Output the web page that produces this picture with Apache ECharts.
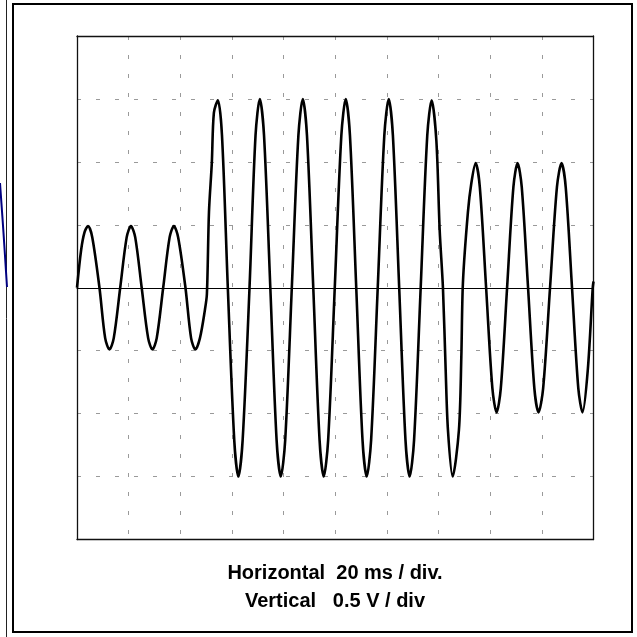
<!DOCTYPE html>
<html>
<head>
<meta charset="utf-8">
<script src="https://cdn.jsdelivr.net/npm/echarts@6/dist/echarts.min.js"></script>
<style>
html,body{margin:0;padding:0;background:#fff;}
#chart{width:637px;height:637px;}
</style>
</head>
<body>
<div id="chart"></div>
<script>
// Time (ms) and voltage (V)
var timeMs = [
  0, 1.6, 2.9, 4.26,
  5.92, 8.7, 10.91, 12.57,
  14.23, 16.73, 19.23, 20.89,
  22.55, 25.05, 27.55, 29.21,
  30.87, 33.37, 35.86, 37.52,
  39.18, 42.0, 44.18, 45.84,
  47.6, 49.5, 50.3, 51.1, 52.2, 53.0, 54.55,
  56.14, 58.4, 60.89, 62.48,
  64.14, 66.8, 69.13, 70.79,
  72.42, 74.86, 77.29, 78.92,
  80.62, 83.18, 85.73, 87.43,
  89.05, 91.49, 93.93, 95.55,
  97.25, 99.81, 102.36, 104.06,
  105.69, 108.13, 110.56, 112.19,
  113.89, 116.45, 119.0, 120.70,
  122.32, 124.76, 127.2, 128.82,
  130.52, 133.08, 135.63, 137.33,
  139.15, 140.43, 141.7, 142.75, 143.64, 145.45,
  147.89, 148.82, 149.44, 151.37, 152.69, 154.35,
  155.98, 158.42, 160.85, 162.48,
  164.1, 166.54, 168.98, 170.60,
  172.22, 174.66, 177.1, 178.72,
  180.5, 183.17, 185.84, 187.62,
  189.24, 191.68, 194.12, 195.74,
  197.8, 199.7, 200
];
var volts = [
  0, 0.30, 0.44, 0.49,
  0.40, 0, -0.40, -0.49,
  -0.40, 0, 0.40, 0.49,
  0.40, 0, -0.40, -0.49,
  -0.40, 0, 0.40, 0.49,
  0.40, 0, -0.40, -0.49,
  -0.40, -0.18, -0.05, 0.60, 0.99, 1.39, 1.49,
  1.21, 0, -1.21, -1.50,
  -1.21, 0, 1.21, 1.50,
  1.21, 0, -1.21, -1.50,
  -1.21, 0, 1.21, 1.50,
  1.21, 0, -1.21, -1.50,
  -1.21, 0, 1.21, 1.50,
  1.21, 0, -1.21, -1.50,
  -1.21, 0, 1.21, 1.50,
  1.21, 0, -1.21, -1.50,
  -1.21, 0, 1.21, 1.49,
  1.17, 0.46, 0, -0.65, -1.13, -1.50,
  -1.13, -0.55, 0.04, 0.60, 0.83, 0.99,
  0.80, 0, -0.80, -0.99,
  -0.80, 0, 0.80, 0.99,
  0.80, 0, -0.80, -0.99,
  -0.80, 0, 0.80, 0.99,
  0.80, 0, -0.80, -0.99,
  -0.65, 0, 0.05
];
// fragment of a neighbouring trace visible at the left edge (normalised units)
var fragX = [0, 0.5, 1];
var fragY = [1, 0.52, 0];

var captionLines = ['Horizontal  20 ms / div.', 'Vertical   0.5 V / div'];

var traceData = timeMs.map(function (t, i) { return [t, volts[i]]; });
var fragData = fragX.map(function (x, i) { return [x, fragY[i]]; });

var chart = echarts.init(document.getElementById('chart'), null, {renderer: 'canvas'});
var dash = {color: '#9a9a9a', width: 1, type: [4, 15]};
var frameLine = {show: true, onZero: false, lineStyle: {color: '#111', width: 1.3}};
var captionFont = 'bold 20px "Liberation Sans", Arial, sans-serif';
chart.setOption({
  animation: false,
  backgroundColor: '#fff',
  grid: [
    {left: 77, top: 36, width: 516.5, height: 503.5, show: false},
    {left: 0, top: 183, width: 7, height: 104, show: false}
  ],
  xAxis: [
    {gridIndex: 0, type: 'value', min: 0, max: 200, interval: 20,
     axisLine: {show: true, onZero: true, lineStyle: {color: '#000', width: 1}},
     axisTick: {show: false}, axisLabel: {show: false},
     splitLine: {show: true, lineStyle: dash}},
    {gridIndex: 1, type: 'value', min: 0, max: 1, show: false},
    {gridIndex: 0, type: 'value', min: 0, max: 200, position: 'top',
     axisLine: frameLine, axisTick: {show: false}, axisLabel: {show: false}, splitLine: {show: false}},
    {gridIndex: 0, type: 'value', min: 0, max: 200, position: 'bottom',
     axisLine: frameLine, axisTick: {show: false}, axisLabel: {show: false}, splitLine: {show: false}}
  ],
  yAxis: [
    {gridIndex: 0, type: 'value', min: -2, max: 2, interval: 0.5,
     axisLine: {show: false}, axisTick: {show: false}, axisLabel: {show: false},
     splitLine: {show: true, lineStyle: dash}},
    {gridIndex: 1, type: 'value', min: 0, max: 1, show: false},
    {gridIndex: 0, type: 'value', min: -2, max: 2, position: 'left',
     axisLine: frameLine, axisTick: {show: false}, axisLabel: {show: false}, splitLine: {show: false}},
    {gridIndex: 0, type: 'value', min: -2, max: 2, position: 'right',
     axisLine: frameLine, axisTick: {show: false}, axisLabel: {show: false}, splitLine: {show: false}}
  ],
  series: [
    {type: 'line', xAxisIndex: 0, yAxisIndex: 0, data: traceData,
     showSymbol: false, smooth: 0.3, lineStyle: {color: '#000', width: 2.6}},
    {type: 'line', xAxisIndex: 1, yAxisIndex: 1, data: fragData,
     showSymbol: false, smooth: 0.4, lineStyle: {color: '#000080', width: 2}}
  ],
  graphic: [
    {type: 'line', shape: {x1: 6.5, y1: 0, x2: 6.5, y2: 637}, style: {stroke: '#222', lineWidth: 1}},
    {type: 'rect', shape: {x: 13, y: 4, width: 619, height: 628}, style: {fill: 'none', stroke: '#000', lineWidth: 2}},
    {type: 'text', x: 335, y: 573,
     style: {text: captionLines[0], font: captionFont, fill: '#000', textAlign: 'center', textVerticalAlign: 'middle'}},
    {type: 'text', x: 335, y: 601,
     style: {text: captionLines[1], font: captionFont, fill: '#000', textAlign: 'center', textVerticalAlign: 'middle'}}
  ]
});
</script>
</body>
</html>
